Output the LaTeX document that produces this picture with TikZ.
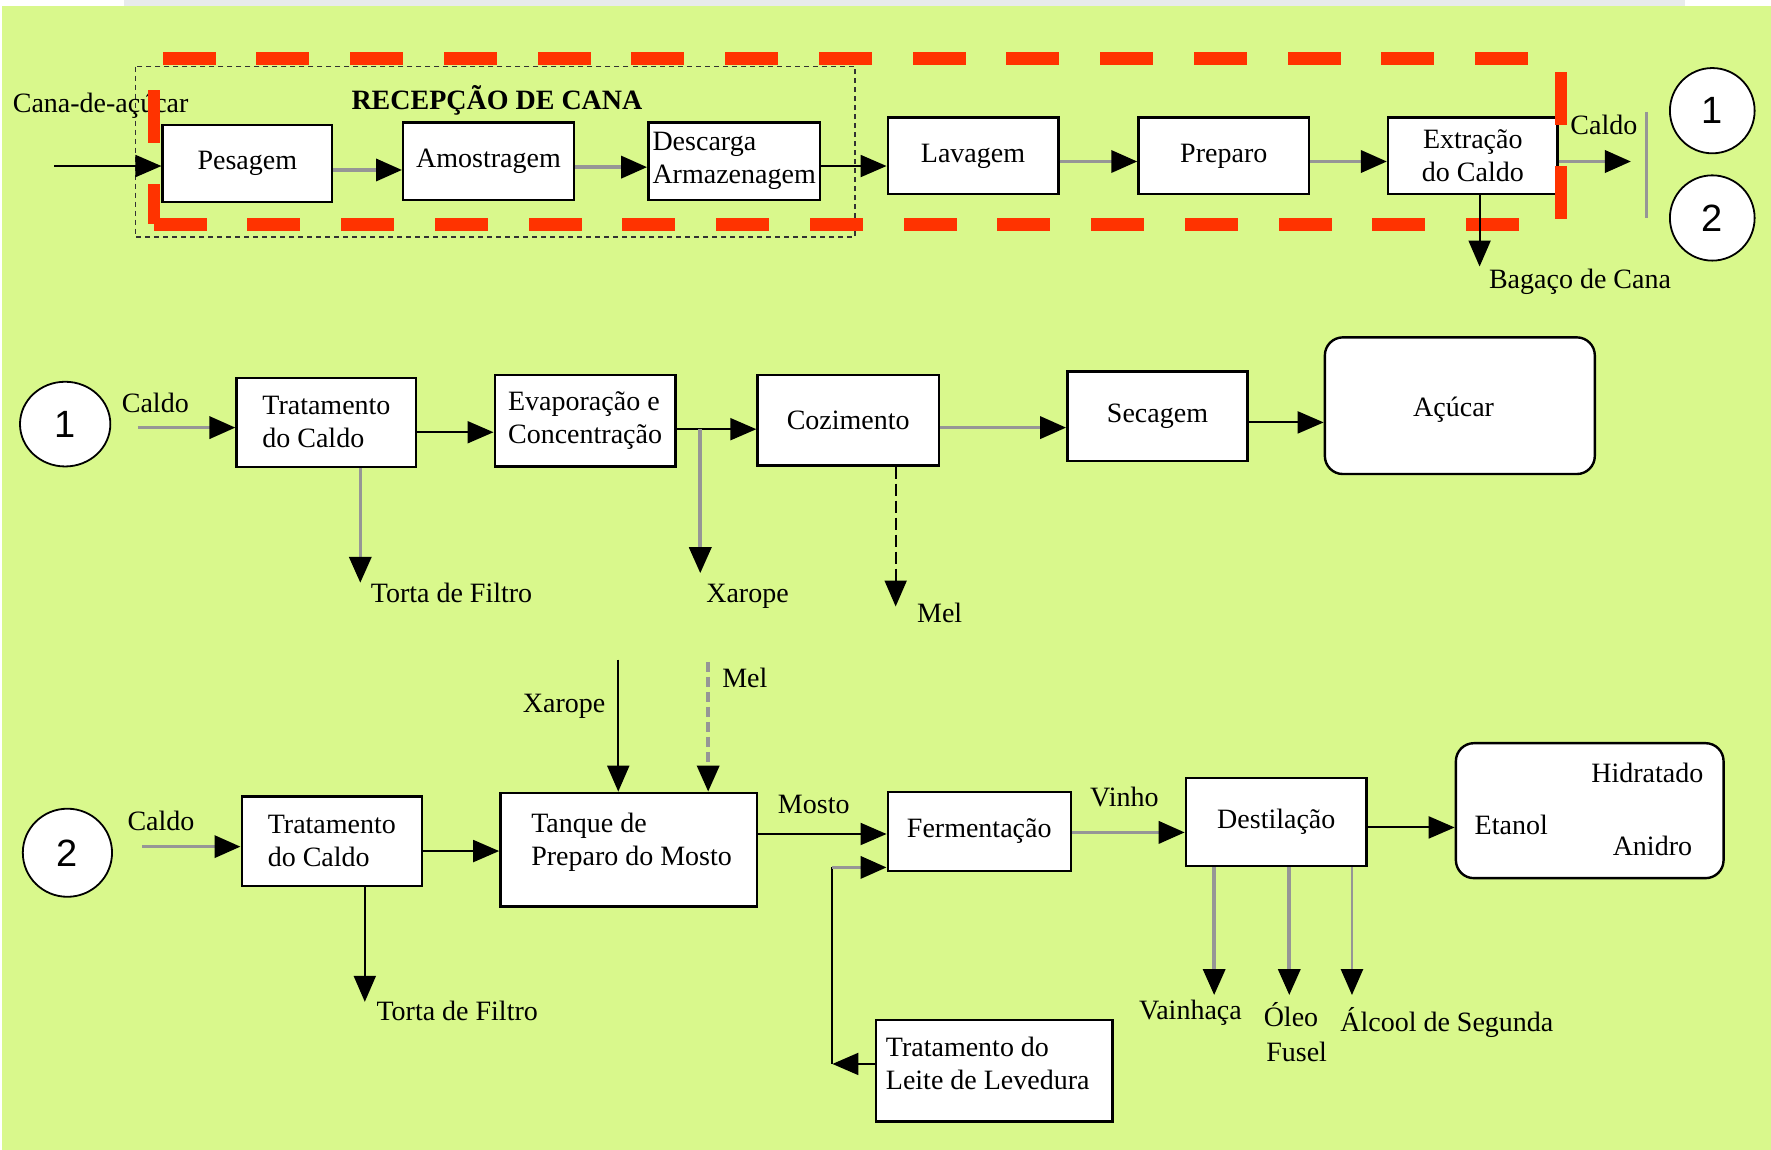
\documentclass[tikz,border=0pt]{standalone}
\usepackage{fontspec}
\setmainfont{Liberation Serif}
\newfontfamily\numfont{Liberation Sans}
\usetikzlibrary{arrows.meta,shapes.geometric}
\definecolor{bg}{RGB}{217,248,140}
\definecolor{redd}{RGB}{255,51,0}
\definecolor{grayline}{RGB}{150,150,150}
\definecolor{topgray}{RGB}{232,235,236}
\def\U{0.5647pt}
\begin{document}
\begin{tikzpicture}[x=0.5647pt,y=-0.5647pt,
  font=\fontsize{14pt}{16.5pt}\selectfont,
  procbox/.style={draw=black, line width=1.2pt, fill=white, inner sep=0pt},
  roundbox/.style={procbox, rounded corners=9pt},
  circ/.style={ellipse, draw=black, line width=0.9pt, fill=white, inner sep=0pt, font=\numfont\fontsize{19pt}{19pt}\selectfont},
  lbl/.style={inner sep=0pt},
  tip/.style={-{Triangle[length=13pt,width=11pt,color=black]}},
  bline/.style={draw=black, line width=1pt},
  gline/.style={draw=grayline, line width=1.8pt},
]
\useasboundingbox (0,0) rectangle (1568,1018);
% background
\fill[white] (0,0) rectangle (1568,1018);
\fill[topgray] (110,0) rectangle (1492,5.3);
\fill[bg] (1.8,5.3) rectangle (1568,1018);

% dotted reception frame
\draw[black!80, line width=0.7pt, dash pattern=on 2.5pt off 2pt] (120,59) rectangle (757,210);

\node[lbl, anchor=west] (tcana) at (11,93.5) {Cana-de-açúcar};
\node[lbl] (trec) at (440,89) {\bfseries RECEPÇÃO DE CANA};

% top row boxes
\node[procbox, minimum width=150*\U, minimum height=68*\U] (pes) at (219,144.7) {Pesagem};
\node[procbox, minimum width=151*\U, minimum height=68.4*\U] (amo) at (432.5,142.8) {Amostragem};
\node[procbox, minimum width=152*\U, minimum height=68.4*\U, align=left] (des) at (650,142.8) {Descarga\\Armazenagem};
\node[procbox, minimum width=151*\U, minimum height=68*\U] (lav) at (861.5,138) {Lavagem};
\node[procbox, minimum width=151*\U, minimum height=68*\U] (pre) at (1083.5,138) {Preparo};
\node[procbox, minimum width=150*\U, minimum height=68*\U, align=center] (ext) at (1304,138) {Extração\\do Caldo};
\node[circ, minimum width=75*\U, minimum height=75.5*\U] (c1a) at (1516,98) {1};
\node[circ, minimum width=75*\U, minimum height=75.5*\U] (c2a) at (1516,193) {2};

% row 2
\node[circ, minimum width=80*\U, minimum height=75*\U] (c1b) at (57.7,375.5) {1};
\node[procbox, minimum width=159*\U, minimum height=78.6*\U, align=left] (tr1) at (289,374) {Tratamento\\do Caldo};
\node[procbox, minimum width=160*\U, minimum height=81*\U, align=left] (ev) at (518,372.5) {Evaporação e\\Concentração};
\node[procbox, minimum width=160.6*\U, minimum height=80*\U] (coz) at (751,372) {Cozimento};
\node[procbox, minimum width=159.6*\U, minimum height=79*\U] (sec) at (1024.8,368.5) {Secagem};
\node[roundbox, minimum width=239*\U, minimum height=121*\U] (acu) at (1292.5,359.2) {};
\node[lbl] (tacu) at (1287,363) {Açúcar};

% row 3
\node[circ, minimum width=79*\U, minimum height=78*\U] (c2b) at (59.7,755) {2};
\node[procbox, minimum width=159.6*\U, minimum height=79.5*\U, align=left] (tr2) at (293.8,744.8) {Tratamento\\do Caldo};
\node[procbox, minimum width=227*\U, minimum height=100.7*\U] (tan) at (556.5,752.3) {};
\node[lbl, anchor=west, align=left] (ttan) at (470,746) {Tanque de\\Preparo do Mosto};
\node[procbox, minimum width=162*\U, minimum height=70*\U] (fer) at (867,736) {Fermentação};
\node[procbox, minimum width=160*\U, minimum height=78*\U] (dst) at (1130,728) {Destilação};
\node[roundbox, minimum width=237*\U, minimum height=119.5*\U] (eta) at (1407.5,717.75) {};
\node[lbl] (thid) at (1458.5,684) {Hidratado};
\node[lbl] (teta) at (1338,730) {Etanol};
\node[lbl] (tani) at (1463,749) {Anidro};
\node[procbox, minimum width=209.3*\U, minimum height=90*\U] (lei) at (880.4,948) {};
\node[lbl, anchor=west, align=left] (tlei) at (784,941.5) {Tratamento do\\Leite de Levedura};

% red dashed frame
\foreach \i in {0,...,14} {
  \fill[redd] (144+83*\i,46) rectangle ++(47,11.5);
  \fill[redd] (136+83*\i,193) rectangle ++(47,11.5);
}
\fill[redd] (131,80) rectangle (141.6,127);
\fill[redd] (131,163) rectangle (141.6,198);
\fill[redd] (1377,63.5) rectangle (1387,110.7);
\fill[redd] (1377,147) rectangle (1387,194);

% coordinates
\coordinate (inA) at (48,147);
\coordinate (cout) at (1444,143);
\coordinate (barT) at (1458,99);
\coordinate (barB) at (1458,193);
\coordinate (bag) at (1310,236);
\coordinate (c1in) at (122,378.6);
\coordinate (xr1) at (620,380);
\coordinate (xr1e) at (620,507.5);
\coordinate (tf1) at (319,516);
\coordinate (mel1) at (793,537);
\coordinate (c2in) at (126,749.6);
\coordinate (tf2) at (323,887);
\coordinate (xr2) at (547.4,584);
\coordinate (ml2) at (627,586);
\coordinate (lcor) at (737,942);
\coordinate (lup) at (737,768);
\coordinate (o1) at (1075,881);
\coordinate (o2) at (1141.5,881);
\coordinate (o3) at (1197,881);

% top row connectors
\draw[bline,tip] (inA) -- (inA -| pes.west);
\draw[gline,tip] (pes.east |- 0,150.5) -- (amo.west |- 0,150.5);
\draw[gline,tip] (amo.east |- 0,148) -- (des.west |- 0,148);
\draw[bline,tip] (des.east |- 0,147) -- (lav.west |- 0,147);
\draw[gline,tip] (lav.east |- 0,143) -- (pre.west |- 0,143);
\draw[gline,tip] (pre.east |- 0,143) -- (ext.west |- 0,143);
\draw[gline,tip] (ext.east |- 0,143) -- (cout);
\draw[draw=grayline, line width=1.3pt] (barT) -- (barB);
\draw[bline,tip] (ext.south -| bag) -- (bag);

% row 2 connectors
\draw[gline,tip] (c1in) -- (c1in -| tr1.west);
\draw[bline,tip] (tr1.east |- 0,382.7) -- (ev.west |- 0,382.7);
\draw[bline,tip] (ev.east |- 0,380) -- (coz.west |- 0,380);
\draw[gline,tip] (xr1) -- (xr1e);
\draw[gline,tip] (tr1.south -| tf1) -- (tf1);
\draw[bline,tip,dash pattern=on 6pt off 2.5pt] (coz.south -| mel1) -- (mel1);
\draw[gline,tip] (coz.east |- 0,378.6) -- (sec.west |- 0,378.6);
\draw[bline,tip] (sec.east |- 0,374) -- (acu.west |- 0,374);

% row 3 connectors
\draw[gline,tip] (c2in) -- (c2in -| tr2.west);
\draw[bline,tip] (tr2.east |- 0,753.5) -- (tan.west |- 0,753.5);
\draw[bline,tip] (tr2.south -| tf2) -- (tf2);
\draw[bline,tip] (xr2) -- (xr2 |- tan.north);
\draw[gline,tip,dash pattern=on 5pt off 2.5pt] (ml2) -- (ml2 |- tan.north);
\draw[bline,tip] (tan.east |- 0,738.4) -- (fer.west |- 0,738.4);
\draw[bline,tip] (lei.west |- lcor) -- (lcor);
\draw[bline] (lcor) -- (lup);
\draw[gline,tip] (lup) -- (lup -| fer.west);
\draw[gline,tip] (fer.east |- 0,737) -- (dst.west |- 0,737);
\draw[bline,tip] (dst.east |- 0,732.6) -- (eta.west |- 0,732.6);
\draw[gline,tip] (dst.south -| o1) -- (o1);
\draw[gline,tip] (dst.south -| o2) -- (o2);
\draw[draw=grayline, line width=1.3pt,tip] (dst.south -| o3) -- (o3);

% labels
\node[lbl] (tcal1) at (1420,110.5) {Caldo};
\node[lbl, anchor=west] (tbag) at (1318,249.5) {Bagaço de Cana};
\node[lbl] (tcal2) at (137.5,356.5) {Caldo};
\node[lbl, anchor=west] (ttf1) at (328,525) {Torta de Filtro};
\node[lbl, anchor=west] (txr1) at (625,528) {Xarope};
\node[lbl] (tmel1) at (832,542.5) {Mel};
\node[lbl] (tcal3) at (142.5,727) {Caldo};
\node[lbl, anchor=west] (ttf2) at (333,895) {Torta de Filtro};
\node[lbl] (txr2) at (499.5,625) {Xarope};
\node[lbl] (tmel2) at (659.5,600) {Mel};
\node[lbl] (tmos) at (720.5,712) {Mosto};
\node[lbl] (tvin) at (995.5,706) {Vinho};
\node[lbl, anchor=base] (tvai) at (1054,903) {Vainhaça};
\node[lbl, anchor=base] (tole) at (1143,909) {Óleo};
\node[lbl, anchor=base] (tfus) at (1148,940) {Fusel};
\node[lbl, anchor=base] (talc) at (1281,913) {Álcool de Segunda};
\end{tikzpicture}
\end{document}
